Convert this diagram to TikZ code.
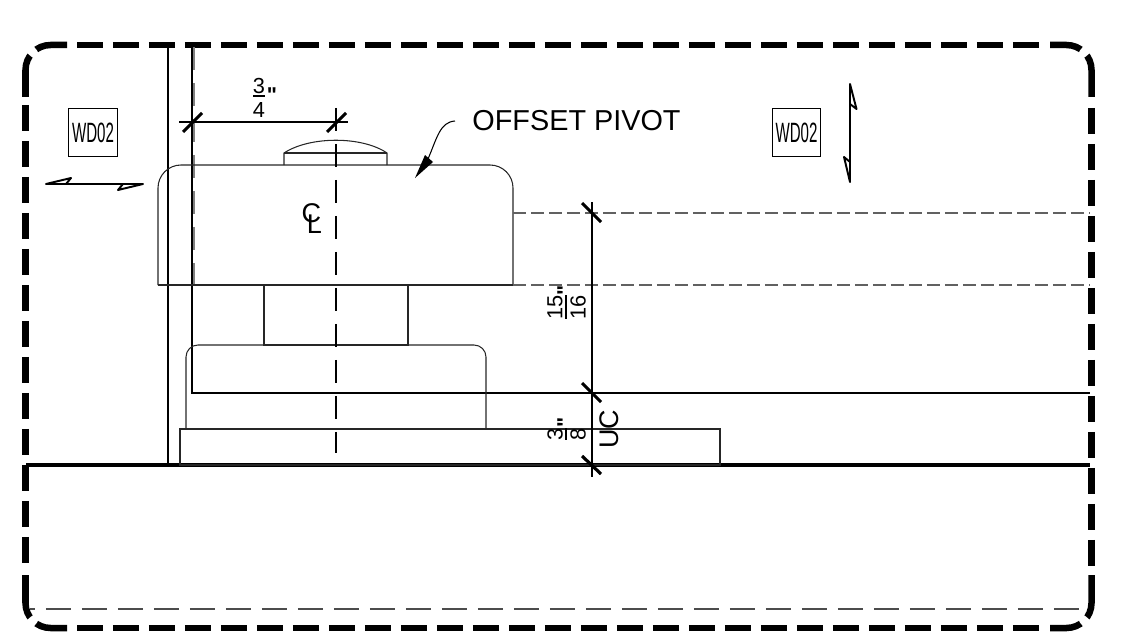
\documentclass[tikz,border=0pt]{standalone}
\usepackage{fontspec}
\usepackage{graphicx}
\setmainfont{Liberation Sans}
\newfontfamily\inchfont{Liberation Sans}

\tikzset{
	borderside/.style={line width=3.7pt, dash pattern=on 0.52cm off 0.2cm},
	bordercorner/.style={line width=3.7pt, rounded corners=0.5cm, dash pattern=on 0.63cm off 0.18cm on 2cm off 1cm},
	heavyline/.style={line width=1.2pt},
	groundline/.style={line width=1.8pt},
	thinline/.style={line width=0.6pt, color=black!85},
	hiddenline/.style={line width=1pt, color=black!62, dash pattern=on 0.26cm off 0.1cm},
	centerline/.style={line width=0.6pt, dash pattern=on 0.47cm off 0.25cm},
	faintdash/.style={line width=0.6pt, color=black!70, dash pattern=on 0.5cm off 0.22cm, dash phase=0.4cm},
	dimline/.style={line width=0.6pt},
	dimtick/.style={line width=1.8pt},
	breakline/.style={line width=1.1pt, line join=round},
	dimtext/.style={inner sep=0pt, font=\fontsize{12.4}{14}\selectfont},
	inchmark/.style={inner sep=0pt, anchor=north, font=\inchfont\fontsize{12.2}{14}\selectfont\bfseries},
	labeltext/.style={inner sep=0pt, font=\fontsize{16.4}{18}\selectfont},
	symboltext/.style={inner sep=0pt, font=\fontsize{15.4}{17}\selectfont},
	tagbox/.style={draw, line width=0.6pt, inner sep=0pt, minimum size=0.97cm, font=\fontsize{15.9}{18}\selectfont},
}

\begin{document}
\begin{tikzpicture}[x=0.02cm, y=-0.02cm]
	\useasboundingbox (0,0) rectangle (1132,635);

	%border
	\draw[borderside] (77,45) -- (1039,45);
	\draw[borderside] (77,628) -- (1039,628);
	\draw[borderside] (25.5,105) -- (25.5,566);
	\draw[borderside] (1091.5,108) -- (1091.5,566);
	\draw[bordercorner] (67,45) -- (25.5,45) -- (25.5,97);
	\draw[bordercorner] (1050,45) -- (1091.5,45) -- (1091.5,97);
	\draw[bordercorner] (67,628) -- (25.5,628) -- (25.5,575);
	\draw[bordercorner] (1050,628) -- (1091.5,628) -- (1091.5,575);
	\draw[faintdash] (30,609) -- (1080,609);

	%walls and floor
	\draw[thinline, color=black!50, centerline] (194,47) -- (194,290);
	\draw[heavyline] (168,45) -- (168,465);
	\draw[heavyline] (192,45) -- (192,393) -- (1090,393);
	\draw[groundline] (26,465) -- (1090,465);

	%pivot body
	\draw[thinline, rounded corners=0.46cm] (158,285) -- (158,165) -- (513,165) -- (513,285);
	\draw[thinline] (158,285) -- (513,285);
	\draw[thinline] (264,285) rectangle (408,345);
	\draw[thinline, rounded corners=0.24cm] (186,429) -- (186,345) -- (486,345) -- (486,429);
	\draw[thinline] (180,429) rectangle (720,465);
	\draw[thinline] (284,165) -- (284,153) .. controls (310,136) and (362,136) .. (387,153) -- (387,165);
	\draw[thinline] (284,153) -- (387,153);
	\draw[centerline] (336,108) -- (336,453);

	%hidden lines
	\draw[hiddenline] (513,213) -- (1090,213);
	\draw[hiddenline] (513,285) -- (1090,285);

	%dimensions
	\draw[dimline] (179,122) -- (348,122);
	\draw[dimtick] (183,132) -- (202,113);
	\draw[dimtick] (327,132) -- (346,113);
	\draw[dimline] (592,202) -- (592,477);
	\draw[dimtick] (582,203) -- (601,222);
	\draw[dimtick] (582,383) -- (601,402);
	\draw[dimtick] (582,456) -- (601,474);

	%fractions
	\node[dimtext] (topthree) at (259,86) {3};
	\node[dimtext] (topfour) at (259,110) {4};
	\node[inchmark] (topmark) at (272,87) {"};
	\draw[dimline] (253,96) -- (265,96);
	\node[dimtext, rotate=90] (longfifteen) at (555,307) {15};
	\node[dimtext, rotate=90] (longsixteen) at (578,307) {16};
	\node[inchmark, rotate=90] (longmark) at (557,290) {"};
	\draw[dimline] (566,295) -- (566,319);
	\node[dimtext, rotate=90] (shortthree) at (555,434) {3};
	\node[dimtext, rotate=90] (shorteight) at (578,434) {8};
	\node[inchmark, rotate=90] (shortmark) at (557,422) {"};
	\draw[dimline] (566,428) -- (566,440);
	\node[labeltext, rotate=90, font=\fontsize{15.3}{17}\selectfont] (undercut) at (609,429) {UC};

	%centerline symbol
	\node[symboltext] (centerc) at (311.5,213) {C};
	\node[symboltext] (centerl) at (314.5,224.5) {L};

	%callout
	\node[labeltext] (pivotlabel) at (576.5,121) {OFFSET PIVOT};
	\coordinate (leaderstart) at (455,121);
	\draw[thinline, color=black] (leaderstart) .. controls (440,122) and (437,138) .. (428,159);
	\fill (415,178) -- (425,155) -- (433,162) -- cycle;

	%tags
	\node[tagbox] (tagleft) at (93,132.5) {\scalebox{0.54}[1]{WD02}};
	\node[tagbox] (tagright) at (796.5,132.5) {\scalebox{0.54}[1]{WD02}};

	%break lines
	\draw[breakline] (46,184) -- (71,178) -- (66,184) -- (123,184) -- (118,190) -- (143,184) -- cycle;
	\draw[breakline] (850,84) -- (856.5,109) -- (850,104) -- (850,162) -- (844,157) -- (850,182) -- cycle;
\end{tikzpicture}
\end{document}
